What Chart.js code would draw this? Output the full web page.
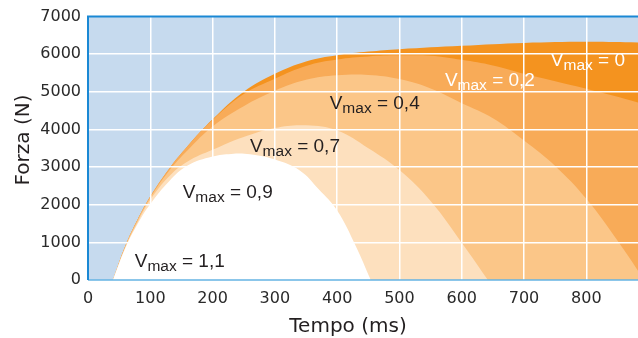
<!DOCTYPE html>
<html>
<head>
<meta charset="utf-8">
<script src="https://cdn.jsdelivr.net/npm/chart.js@4.4.0/dist/chart.umd.min.js"></script>
<style>
  html, body { margin: 0; padding: 0; background: #fff; }
</style>
</head>
<body>
<canvas id="forzaChart" width="638" height="338"></canvas>
<script>
// Tempo (ms) / Forza (N), one pair of arrays per curve
const timeV0  = [40, 60, 80, 100, 130, 160, 200, 250, 300, 350, 400, 450, 500, 600, 700, 800, 890];
const forceV0 = [0, 910, 1620, 2220, 2950, 3560, 4270, 5000, 5480, 5810, 5975, 6070, 6135, 6225, 6300, 6330, 6310];

const timeV02  = [40, 60, 80, 100, 130, 160, 200, 250, 300, 350, 400, 450, 500, 550, 600, 650, 700, 800, 890];
const forceV02 = [0, 910, 1620, 2220, 2950, 3560, 4250, 4940, 5350, 5690, 5860, 5940, 5970, 5960, 5850, 5700, 5480, 5080, 4690];

const timeV04  = [40, 60, 80, 100, 130, 160, 200, 250, 300, 350, 400, 450, 500, 550, 600, 650, 700, 750, 800, 850, 893];
const forceV04 = [0, 900, 1600, 2190, 2900, 3450, 4080, 4620, 5030, 5320, 5440, 5450, 5340, 5090, 4700, 4300, 3705, 3030, 2158, 1050, 0];

const timeV07  = [40, 60, 80, 100, 130, 160, 200, 250, 300, 350, 400, 450, 500, 550, 600, 642];
const forceV07 = [0, 870, 1550, 2130, 2750, 3150, 3460, 3800, 4040, 4110, 3970, 3500, 2920, 2100, 990, 0];

const timeV09  = [40, 60, 80, 100, 130, 160, 200, 230, 260, 300, 340, 370, 400, 430, 454];
const forceV09 = [0, 850, 1500, 2020, 2620, 3040, 3280, 3350, 3340, 3200, 2910, 2420, 1850, 900, 0];

const xTicks = [0, 100, 200, 300, 400, 500, 600, 700, 800];
const yTicks = [0, 1000, 2000, 3000, 4000, 5000, 6000, 7000];

// curve labels and where they sit (ms, N)
const vmaxLabels = ['1,1', '0,9', '0,7', '0,4', '0,2', '0'];
const labelTime  = [75, 152, 260, 388, 573, 743];
const labelForce = [345, 2167, 3395, 4540, 5163, 5694];
const labelColors = ['#231f20', '#231f20', '#231f20', '#231f20', '#ffffff', '#ffffff'];

function zip(xs, ys) {
  return xs.map((x, i) => ({x: x, y: ys[i]}));
}

function area(label, xs, ys, color, order) {
  return {
    label: label,
    data: zip(xs, ys),
    backgroundColor: color,
    borderWidth: 0,
    pointRadius: 0,
    fill: 'origin',
    tension: 0.4,
    order: order
  };
}

// light blue plot background, frame lines and the Vmax labels
const decorPlugin = {
  id: 'decor',
  beforeDraw(chart) {
    const a = chart.chartArea;
    const c = chart.ctx;
    c.save();
    c.fillStyle = '#c6daee';
    c.fillRect(a.left, a.top, a.right - a.left, a.bottom - a.top);
    c.restore();
  },
  afterDraw(chart) {
    const a = chart.chartArea;
    const c = chart.ctx;
    const xs = chart.scales.x;
    const ys = chart.scales.y;
    c.save();
    c.strokeStyle = '#64b3e3';
    c.lineWidth = 1.5;
    c.beginPath();
    c.moveTo(a.left, a.bottom);
    c.lineTo(a.right, a.bottom);
    c.stroke();
    c.strokeStyle = '#1a88d4';
    c.lineWidth = 2;
    c.beginPath();
    c.moveTo(a.left, a.bottom);
    c.lineTo(a.left, a.top);
    c.lineTo(a.right, a.top);
    c.stroke();

    c.textBaseline = 'alphabetic';
    c.textAlign = 'left';
    vmaxLabels.forEach((txt, i) => {
      let px = xs.getPixelForValue(labelTime[i]);
      const py = ys.getPixelForValue(labelForce[i]);
      c.fillStyle = labelColors[i];
      c.font = '19px "Liberation Sans", Arial, sans-serif';
      c.fillText('V', px, py);
      px += c.measureText('V').width;
      c.font = '15.5px "Liberation Sans", Arial, sans-serif';
      c.fillText('max', px, py + 4);
      px += c.measureText('max').width;
      c.font = '19px "Liberation Sans", Arial, sans-serif';
      c.fillText(' = ' + txt, px, py);
    });

    // axis titles
    c.fillStyle = '#231f20';
    c.font = '20px "DejaVu Sans", sans-serif';
    c.textAlign = 'center';
    c.fillText('Tempo (ms)', 348, 332);
    c.translate(29, 140);
    c.rotate(-Math.PI / 2);
    c.fillText('Forza (N)', 0, 0);
    c.restore();
  }
};

function gridColor(ctx) {
  const v = ctx.tick ? ctx.tick.value : null;
  if (v === 0 || v === 7000) return 'rgba(0,0,0,0)';
  return '#ffffff';
}

const ctx = document.getElementById('forzaChart').getContext('2d');
const chart = new Chart(ctx, {
  type: 'line',
  data: {
    datasets: [
      area('Vmax = 0', timeV0, forceV0, '#f4931f', 5),
      area('Vmax = 0,2', timeV02, forceV02, '#f8ab58', 4),
      area('Vmax = 0,4', timeV04, forceV04, '#fbc688', 3),
      area('Vmax = 0,7', timeV07, forceV07, '#fde0be', 2),
      area('Vmax = 0,9', timeV09, forceV09, '#ffffff', 1)
    ]
  },
  options: {
    responsive: false,
    animation: false,
    layout: { padding: { top: 16, right: 0, bottom: 0, left: 0 } },
    plugins: {
      legend: { display: false },
      tooltip: { enabled: false }
    },
    scales: {
      x: {
        type: 'linear',
        min: 0,
        max: 883,
        afterFit: (scale) => { scale.height = 58; },
        afterBuildTicks: (scale) => { scale.ticks = xTicks.map(v => ({value: v})); },
        ticks: {
          includeBounds: false,
          padding: 9,
          color: '#2a2a2a',
          font: { family: '"DejaVu Sans", sans-serif', size: 16 },
          callback: (v) => String(v)
        },
        grid: { color: gridColor, lineWidth: 1.5, drawTicks: false, z: 1 },
        border: { display: false }
      },
      y: {
        min: 0,
        max: 7000,
        afterFit: (scale) => { scale.width = 88; },
        afterBuildTicks: (scale) => { scale.ticks = yTicks.map(v => ({value: v})); },
        ticks: {
          padding: 7,
          color: '#2a2a2a',
          font: { family: '"DejaVu Sans", sans-serif', size: 16 },
          callback: (v) => String(v)
        },
        grid: { color: gridColor, lineWidth: 1.5, drawTicks: false, z: 1 },
        border: { display: false }
      }
    }
  },
  plugins: [decorPlugin]
});
</script>
</body>
</html>
